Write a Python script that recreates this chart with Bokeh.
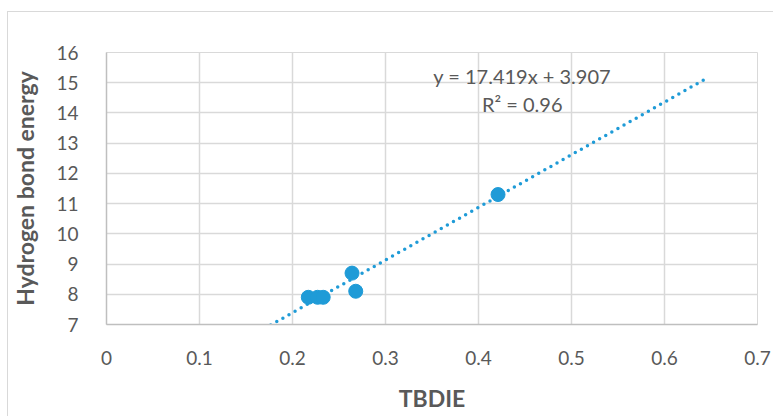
from bokeh.plotting import figure
from bokeh.models import Range1d, FixedTicker, Label
from bokeh.embed import file_html
from bokeh.resources import INLINE

# data
tbdie = [0.217, 0.227, 0.233, 0.264, 0.268, 0.421]
hb_energy = [7.9, 7.9, 7.9, 8.7, 8.1, 11.3]
slope = 17.419
intercept = 3.907
trend_x = [0.17, 0.643]
trend_y = [slope * v + intercept for v in trend_x]
x_ticks = [0, 0.1, 0.2, 0.3, 0.4, 0.5, 0.6, 0.7]
y_ticks = list(range(7, 17))

FONT = "Lato"
GRAY = "#595959"
BLUE = "#1f9bd7"

p = figure(width=766, height=405, output_backend="svg", toolbar_location=None,
           x_range=Range1d(0, 0.7), y_range=Range1d(7, 16),
           min_border_left=93, min_border_right=17, min_border_top=40, min_border_bottom=93)
p.styles = {"border-left": "1px solid #d9d9d9", "border-top": "1px solid #d9d9d9",
            "margin-top": "11px", "margin-left": "7px"}
p.outline_line_color = "#d9d9d9"
p.background_fill_color = "white"

p.xaxis.ticker = FixedTicker(ticks=x_ticks)
p.yaxis.ticker = FixedTicker(ticks=y_ticks)
p.xaxis.major_label_overrides = {0: "0"}
for ax in (p.xaxis[0], p.yaxis[0]):
    ax.axis_line_color = "#bfbfbf"
    ax.axis_line_width = 1.5
    ax.major_tick_line_color = None
    ax.minor_tick_line_color = None
    ax.major_label_text_font = FONT
    ax.major_label_text_font_size = "19px"
    ax.major_label_text_color = GRAY
    ax.axis_label_text_font = FONT
    ax.axis_label_text_font_size = "23px"
    ax.axis_label_text_font_style = "bold"
    ax.axis_label_text_color = GRAY
p.xaxis.axis_label = "TBDIE"
p.yaxis.axis_label = "Hydrogen bond energy"
p.xaxis.major_label_standoff = 20
p.yaxis.major_label_standoff = 22
p.xaxis.axis_label_standoff = 16
p.yaxis.axis_label_standoff = 14

p.xgrid.grid_line_color = "#d9d9d9"
p.ygrid.grid_line_color = "#d9d9d9"
p.xgrid.grid_line_width = 1.5
p.ygrid.grid_line_width = 1.5

p.line(trend_x, trend_y, line_color=BLUE, line_width=3.5, line_dash="0 7", line_cap="round")
p.scatter(tbdie, hb_energy, size=14, fill_color=BLUE, line_color=BLUE)

p.add_layout(Label(x=0.447, y=15.21, text="y = 17.419x + 3.907", text_font=FONT,
                   text_font_size="20px", text_color=GRAY, text_align="center", text_baseline="middle"))
p.add_layout(Label(x=0.447, y=14.29, text="R² = 0.96", text_font=FONT,
                   text_font_size="20px", text_color=GRAY, text_align="center", text_baseline="middle"))

open("out.html", "w").write(file_html(p, INLINE))
